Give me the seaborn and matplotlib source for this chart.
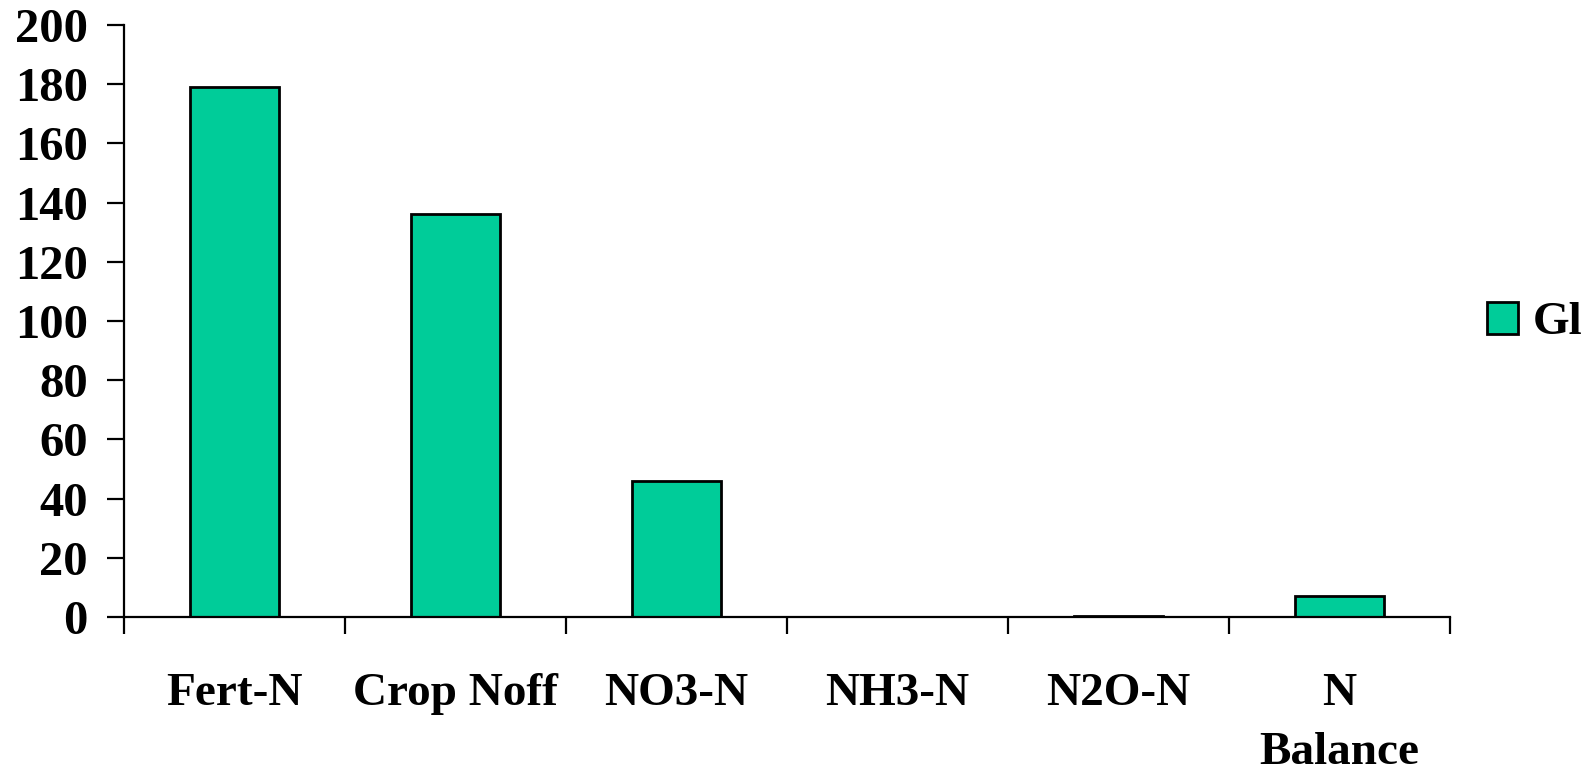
import matplotlib
matplotlib.use("Agg")
import matplotlib.pyplot as plt
import seaborn as sns
import pandas as pd

# Nitrogen flows (kg N/ha)
categories = ["Fert-N", "Crop Noff", "NO3-N", "NH3-N", "N2O-N", "N\nBalance"]
values = [179, 136, 46, 0, 0.3, 7]
series_name = "Gl"

df = pd.DataFrame({"category": categories, "value": values, "series": series_name})

sns.set_theme(style="white")
plt.rcParams["font.family"] = ["Liberation Serif", "DejaVu Serif"]
plt.rcParams["font.weight"] = "bold"
plt.rcParams["text.color"] = "black"

fig = plt.figure(figsize=(15.94, 7.73), dpi=100)
ax = fig.add_axes([124 / 1594, 1 - 617 / 773, (1450 - 124) / 1594, (617 - 25) / 773])

sns.barplot(data=df, x="category", y="value", hue="series", palette=["#00CC99"],
            edgecolor="black", linewidth=2.0, width=0.4, ax=ax, saturation=1)

ax.set_xlim(-0.5, len(categories) - 0.5)
ax.set_ylim(0, 200)
ax.set_yticks(range(0, 201, 20))
ax.set_xlabel("")
ax.set_ylabel("")

for side in ["top", "right"]:
    ax.spines[side].set_visible(False)
for side in ["left", "bottom"]:
    ax.spines[side].set_linewidth(1.6)
    ax.spines[side].set_color("black")

# category boundaries carry the x ticks; labels sit on the centers
ax.set_xticks([i - 0.5 for i in range(len(categories) + 1)], minor=True)
ax.tick_params(axis="x", which="minor", direction="out", length=12, width=1.6, color="black", bottom=True)
ax.tick_params(axis="x", which="major", length=0, pad=40, labelsize=34)
ax.tick_params(axis="y", direction="out", length=12, width=1.6, color="black", left=True, pad=14, labelsize=35)
for lab in ax.get_xticklabels() + ax.get_yticklabels():
    lab.set_fontweight("bold")
    lab.set_color("black")
for lab in ax.get_xticklabels():
    lab.set_linespacing(1.55)

leg = ax.legend(loc="center left", bbox_to_anchor=(1487 / 1594, 1 - 323 / 773),
                bbox_transform=fig.transFigure, frameon=False, borderpad=0, borderaxespad=0,
                prop={"family": "Liberation Serif", "weight": "bold", "size": 34},
                handlelength=0.66, handleheight=0.66, handletextpad=0.3)
for h in leg.legend_handles:
    h.set_edgecolor("black")
    h.set_linewidth(2.0)
for t in leg.get_texts():
    t.set_color("black")

fig.savefig("out.png", dpi=100)
